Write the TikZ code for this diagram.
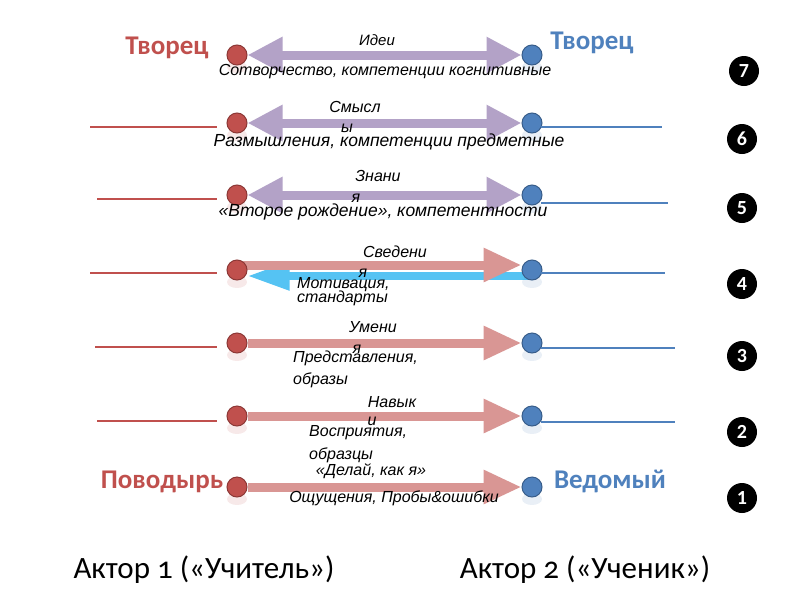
\documentclass[tikz,border=0pt]{standalone}
\usepackage{fontspec}
\setmainfont{Liberation Sans}
\newfontfamily\calfont{Carlito}
\newfontfamily\caloldfont{Carlito}[Numbers=OldStyle]
\usetikzlibrary{arrows.meta,backgrounds}
\definecolor{dred}{HTML}{C0504D}
\definecolor{dredb}{HTML}{8C3836}
\definecolor{dblue}{HTML}{4F81BD}
\definecolor{dblueb}{HTML}{385D8A}
\definecolor{lav}{HTML}{B3A2C7}
\definecolor{pinkar}{HTML}{D99694}
\definecolor{cyanar}{HTML}{55C3F3}
\begin{document}
\begin{tikzpicture}[x=1pt,y=-1pt,
  rdot/.style={circle,fill=dred,draw=dredb,line width=1pt,minimum size=20pt,inner sep=0pt},
  bdot/.style={circle,fill=dblue,draw=dblueb,line width=1pt,minimum size=20pt,inner sep=0pt},
  bothar/.style={draw=lav,line width=9pt,{Triangle[length=35pt,width=34pt]}-{Triangle[length=35pt,width=34pt]}},
  fwdar/.style={draw=pinkar,line width=9pt,-{Triangle[length=38pt,width=32pt]}},
  backar/.style={draw=cyanar,line width=8pt,-{Triangle[length=42pt,width=27pt]}},
  lab/.style={font=\itshape\fontsize{16}{16}\selectfont,inner sep=0pt},
  labb/.style={font=\itshape\fontsize{17.5}{17.5}\selectfont,inner sep=0pt},
  labs/.style={font=\itshape\fontsize{15}{15}\selectfont,inner sep=0pt},
  rline/.style={draw=dred,line width=1.2pt},
  bline/.style={draw=dblue,line width=1.2pt},
  badge/.style={circle,fill=black,minimum size=30pt,inner sep=0pt,text=white,font=\calfont\bfseries\fontsize{20}{20}\selectfont},
  role/.style={font=\calfont\bfseries\fontsize{27}{27}\selectfont,inner sep=0pt},
  actor/.style={font=\caloldfont\fontsize{31}{31}\selectfont,inner sep=0pt}]
\useasboundingbox (0,0) rectangle (800,600);
% dots
\foreach \n/\y in {7/55,6/123,5/195,4/270,3/343,2/416,1/487}{
  \fill[dred,opacity=0.12] (237,\y+12) ellipse (10pt and 6pt);
  \fill[dblue,opacity=0.12] (532,\y+12) ellipse (10pt and 6pt);
  \node[rdot] (l\n) at (237,\y) {};
  \node[bdot] (r\n) at (532,\y) {};
}
% arrows
\begin{scope}[on background layer]
  \fill[white] (0,0) rectangle (800,600);
  \draw[bothar] (l7) -- (r7);
  \draw[bothar] (l6) -- (r6);
  \draw[bothar] (l5) -- (r5);
  \draw[backar] ([yshift=-6pt]r4.center) -- ([yshift=-6pt]l4.east);
  \draw[fwdar] ([yshift=5pt]l4.center) -- ([yshift=5pt]r4.west);
  \draw[fwdar] (l3) -- (r3);
  \draw[fwdar] (l2) -- (r2);
  \draw[fwdar] (l1) -- (r1);
\end{scope}
% side lines
\coordinate (a6) at (90,127);  \coordinate (b6) at (662,127);
\coordinate (a5) at (97,199);  \coordinate (b5) at (668,203);
\coordinate (a4) at (90,273);  \coordinate (b4) at (665,273);
\coordinate (a3) at (95,347);  \coordinate (b3) at (675,348);
\coordinate (a2) at (97,421);  \coordinate (b2) at (675,422);
\foreach \n in {6,5,4,3,2}{
  \draw[rline] (a\n) -- ([xshift=-10pt]l\n.west |- a\n);
  \draw[bline] ([xshift=-2pt]r\n.east |- b\n) -- (b\n);
}
% role labels
\node[role,text=dred] (t7l) at (167,48) {Творец};
\node[role,text=dblue] (t7r) at (592,43) {Творец};
\node[role,text=dred] (t1l) at (162,482) {Поводырь};
\node[role,text=dblue] (t1r) at (610,481) {Ведомый};
% row 7
\node[labs] (x7a) at (377,40) {Идеи};
\node[lab] (x7b) at (385,72) {Сотворчество, компетенции когнитивные};
% row 6
\node[lab] (x6a) at (355,107) {Смысл};
\node[lab] (x6b) at (347,128) {ы};
\node[labb] (x6c) at (389,142) {Размышления, компетенции предметные};
% row 5
\node[lab] (x5a) at (378,176) {Знани};
\node[lab] (x5b) at (356,198) {я};
\node[labb] (x5c) at (383,212) {«Второе рождение», компетентности};
% row 4
\node[lab] (x4a) at (395,252) {Сведени};
\node[lab] (x4b) at (363,273) {я};
\node[lab,anchor=west] (x4c) at (297,285) {Мотивация,};
\node[lab,anchor=west] (x4d) at (297,298) {стандарты};
% row 3
\node[lab] (x3a) at (373,327) {Умени};
\node[lab] (x3b) at (357,349) {я};
\node[lab,anchor=west] (x3c) at (293,358) {Представления,};
\node[lab,anchor=west] (x3d) at (293,380) {образы};
% row 2
\node[lab] (x2a) at (392,402) {Навык};
\node[lab] (x2b) at (372,421) {и};
\node[lab,anchor=west] (x2c) at (309,433) {Восприятия,};
\node[lab,anchor=west] (x2d) at (309,455) {образцы};
% row 1
\node[lab] (x1a) at (371,471) {«Делай, как я»};
\node[lab] (x1b) at (394,498) {Ощущения, Пробы\&ошибки};
% badges
\node[badge] (n7) at (744,71) {7};
\node[badge] (n6) at (742,139) {6};
\node[badge] (n5) at (742,208) {5};
\node[badge] (n4) at (742,284) {4};
\node[badge] (n3) at (742,356) {3};
\node[badge] (n2) at (742,432) {2};
\node[badge] (n1) at (742,498) {1};
% actors
\node[actor] (act1) at (204,570) {Актор 1 («Учитель»)};
\node[actor] (act2) at (585,570) {Актор 2 («Ученик»)};
\end{tikzpicture}
\end{document}
